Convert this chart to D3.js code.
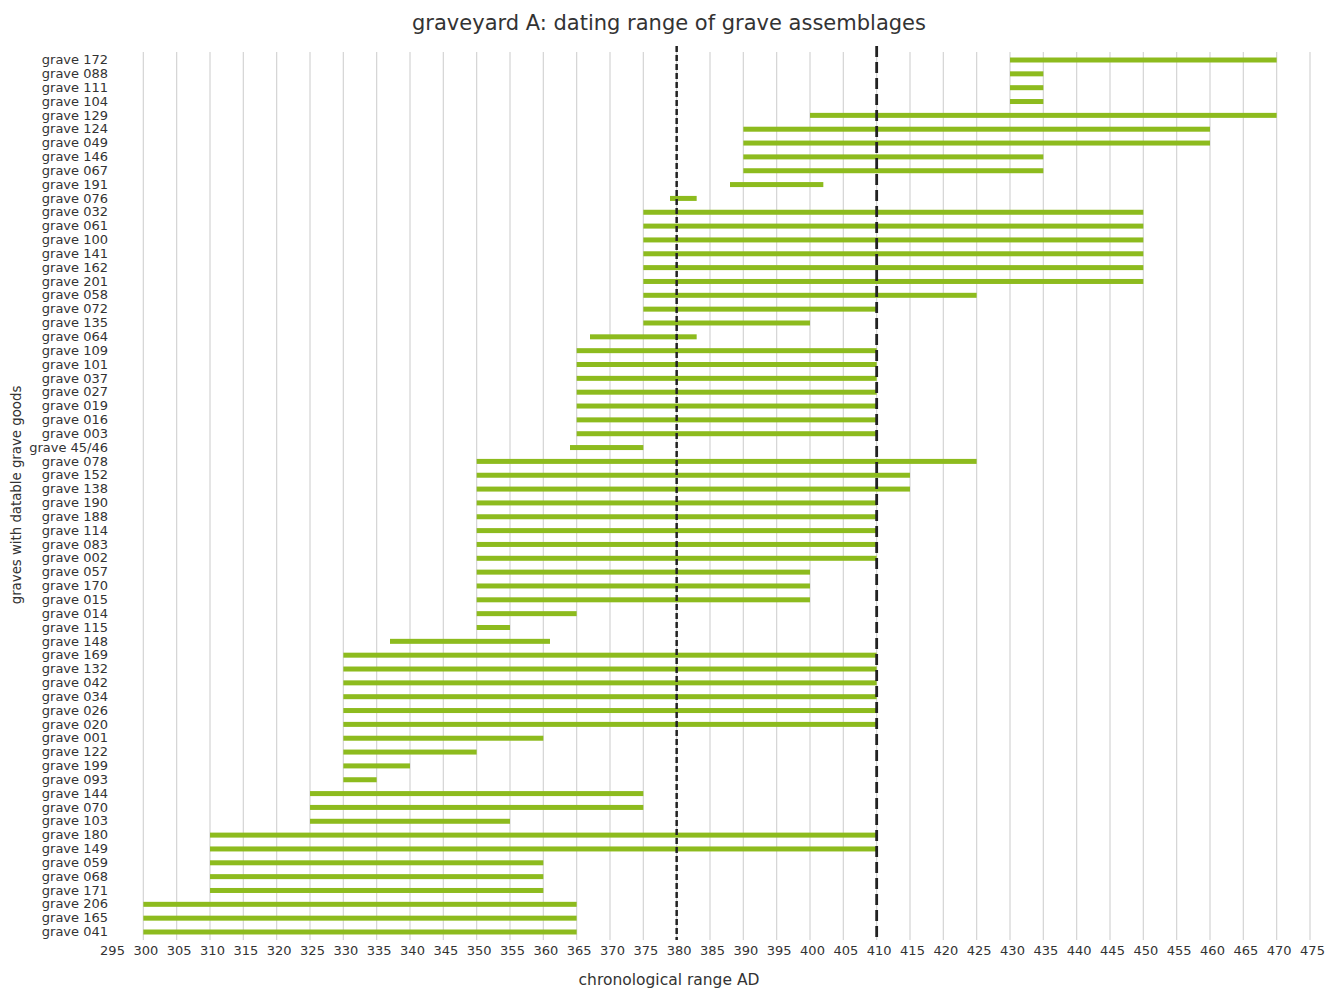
<!DOCTYPE html>
<html>
<head>
<meta charset="utf-8">
<script src="https://cdn.jsdelivr.net/npm/d3@7"></script>
<style>
  html, body { margin: 0; padding: 0; background: #fff; }
  svg { display: block; font-family: "DejaVu Sans", Verdana, sans-serif; }
</style>
</head>
<body>
<svg id="chart" width="1327" height="989"></svg>
<script>
const graves = ["grave 172","grave 088","grave 111","grave 104","grave 129","grave 124","grave 049","grave 146","grave 067","grave 191","grave 076","grave 032","grave 061","grave 100","grave 141","grave 162","grave 201","grave 058","grave 072","grave 135","grave 064","grave 109","grave 101","grave 037","grave 027","grave 019","grave 016","grave 003","grave 45/46","grave 078","grave 152","grave 138","grave 190","grave 188","grave 114","grave 083","grave 002","grave 057","grave 170","grave 015","grave 014","grave 115","grave 148","grave 169","grave 132","grave 042","grave 034","grave 026","grave 020","grave 001","grave 122","grave 199","grave 093","grave 144","grave 070","grave 103","grave 180","grave 149","grave 059","grave 068","grave 171","grave 206","grave 165","grave 041"];
const startYear = [430,430,430,430,400,390,390,390,390,388,379,375,375,375,375,375,375,375,375,375,367,365,365,365,365,365,365,365,364,350,350,350,350,350,350,350,350,350,350,350,350,350,337,330,330,330,330,330,330,330,330,330,330,325,325,325,310,310,310,310,310,300,300,300];
const endYear =   [470,435,435,435,470,460,460,435,435,402,383,450,450,450,450,450,450,425,410,400,383,410,410,410,410,410,410,410,375,425,415,415,410,410,410,410,410,400,400,400,365,355,361,410,410,410,410,410,410,360,350,340,335,375,375,355,410,410,360,360,360,365,365,365];
const xTicks = d3.range(295, 476, 5);
const refYears = [380, 410];

const svg = d3.select("#chart");
const x = d3.scaleLinear().domain([295, 475]).range([110, 1310]);
const y = d3.scalePoint().domain(graves).range([60, 932]);
const plotTop = 52, plotBottom = 940;

// title
svg.append("text").attr("x", 669).attr("y", 30).attr("text-anchor", "middle")
  .attr("font-size", 21).attr("fill", "#333").text("graveyard A: dating range of grave assemblages");

// gridlines
svg.append("g").selectAll("line").data(xTicks.filter(d => d >= 300)).join("line")
  .attr("x1", d => x(d)).attr("x2", d => x(d))
  .attr("y1", plotTop).attr("y2", plotBottom)
  .attr("stroke", "#d4d4d4").attr("stroke-width", 1.2);

// bars
const rows = graves.map((g, i) => ({g, s: startYear[i], e: endYear[i]}));
svg.append("g").selectAll("rect").data(rows).join("rect")
  .attr("x", d => x(d.s)).attr("width", d => x(d.e) - x(d.s))
  .attr("y", d => y(d.g) - 2.5).attr("height", 5)
  .attr("fill", "#8dbb1e");

// reference dashed lines
svg.append("line").attr("x1", x(refYears[0])).attr("x2", x(refYears[0]))
  .attr("y1", 46).attr("y2", plotBottom)
  .attr("stroke", "#222").attr("stroke-width", 2.5).attr("stroke-dasharray", "6,3");
svg.append("line").attr("x1", x(refYears[1])).attr("x2", x(refYears[1]))
  .attr("y1", 46).attr("y2", plotBottom)
  .attr("stroke", "#222").attr("stroke-width", 2.8).attr("stroke-dasharray", "11,5");

// y labels
const yAxis = d3.axisLeft(y).tickSize(0).tickPadding(0);
const yg = svg.append("g").attr("transform", "translate(108,-0.5)").call(yAxis);
yg.select(".domain").remove();
yg.selectAll("text").attr("font-size", 13).attr("fill", "#333")
  .attr("font-family", "DejaVu Sans, sans-serif").attr("dy", "0.32em");

// x labels
const xAxis = d3.axisBottom(x).tickValues(xTicks).tickSize(0).tickPadding(0).tickFormat(d3.format("d"));
const xg = svg.append("g").attr("transform", "translate(2,946)").call(xAxis);
xg.select(".domain").remove();
xg.selectAll("text").attr("font-size", 13).attr("fill", "#333")
  .attr("font-family", "DejaVu Sans, sans-serif");

// axis titles
svg.append("text").attr("x", 669).attr("y", 985).attr("text-anchor", "middle")
  .attr("font-size", 15.5).attr("fill", "#333").text("chronological range AD");
svg.append("text").attr("transform", "translate(21,495) rotate(-90)").attr("text-anchor", "middle")
  .attr("font-size", 13.3).attr("fill", "#333").text("graves with datable grave goods");
</script>
</body>
</html>
